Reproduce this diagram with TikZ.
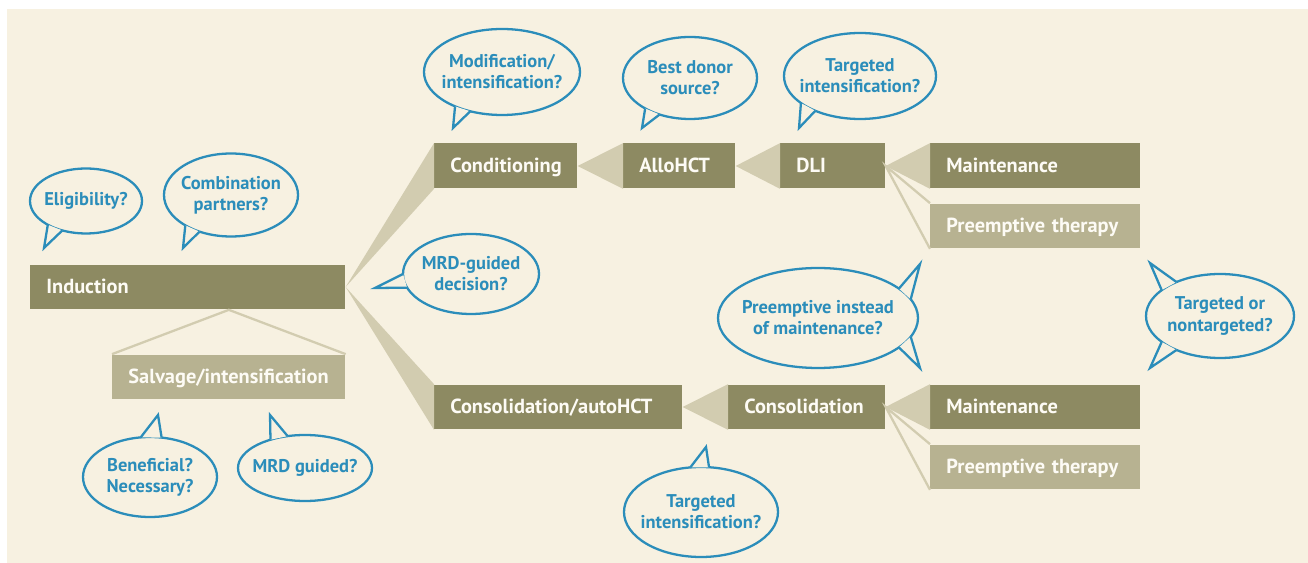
\documentclass[tikz,border=0pt]{standalone}
\usepackage{fontspec}
\setmainfont{PT Sans}
\usetikzlibrary{calc}
\definecolor{cream}{HTML}{F7F1E1}
\definecolor{olivedark}{HTML}{8D8A62}
\definecolor{olivelight}{HTML}{B7B291}
\definecolor{wedgetan}{HTML}{D2CCB0}
\definecolor{qblue}{HTML}{2B8DBA}
\definecolor{boxtext}{HTML}{FDFBF5}
\hyphenpenalty=10000

\begin{document}
\begin{tikzpicture}[x=0.02cm, y=-0.02cm,
    stage/.style={fill=olivedark, text=boxtext, font=\bfseries\fontsize{11.6}{13}\selectfont,
        anchor=west, minimum height=0.9cm, inner xsep=0.32cm, inner ysep=0pt,
        text height=0.72em, text depth=0pt, align=left, text width=#1},
    stagelight/.style={stage=#1, fill=olivelight},
    wedge/.style={fill=wedgetan},
    branch/.style={draw=wedgetan, line width=1.3pt},
    question/.style={text=qblue, font=\bfseries\fontsize{10.5}{12}\selectfont, align=center},
    bubble/.style={draw=qblue, line width=1.3pt},
    tail/.style={draw=qblue, line width=1.3pt, fill=cream}]
        % Hintergrund
        \fill[white] (0,0) rectangle (1308,563);
        \useasboundingbox (0,0) rectangle (1308,563);
        \fill[cream] (7,9) rectangle (1308,563);

        % Therapiestufen
        \node[stage=5.66cm] (induction) at (30,287) {Induction};
        \node[stagelight=4.02cm] (salvage) at (112,377) {Salvage/intensification};
        \node[stage=2.22cm] (cond) at (434,166) {Conditioning};
        \node[stage=1.6cm] (allo) at (623,166) {AlloHCT};
        \node[stage=1.46cm] (dli) at (780,166) {DLI};
        \node[stage=3.56cm] (maintA) at (930,166) {Maintenance};
        \node[stagelight=3.56cm] (preA) at (930,226) {Preemptive~therapy};
        \node[stage=4.32cm] (consauto) at (434,407) {Consolidation/autoHCT};
        \node[stage=2.5cm] (cons) at (728,407) {Consolidation};
        \node[stage=3.56cm] (maintB) at (930,407) {Maintenance};
        \node[stagelight=3.56cm] (preB) at (930,467) {Preemptive~therapy};

        % Keile zwischen den Stufen
        \fill[wedge] (induction.east) -- (cond.north west) -- (cond.south west) -- cycle;
        \fill[wedge] (induction.east) -- (consauto.north west) -- (consauto.south west) -- cycle;
        \fill[wedge] (cond.east) -- (allo.north west) -- (allo.south west) -- cycle;
        \fill[wedge] (allo.east) -- (dli.north west) -- (dli.south west) -- cycle;
        \fill[wedge] (dli.east) -- (maintA.north west) -- (maintA.south west) -- cycle;
        \fill[wedge] (consauto.east) -- (cons.north west) -- (cons.south west) -- cycle;
        \fill[wedge] (cons.east) -- (maintB.north west) -- (maintB.south west) -- cycle;

        % duenne Aeste
        \coordinate (indfoot) at (salvage.north |- induction.south);
        \draw[branch] (salvage.north west) -- (indfoot) -- (salvage.north east);
        \draw[branch] (preA.north west) -- (dli.east) -- (preA.south west);
        \draw[branch] (preB.north west) -- (cons.east) -- (preB.south west);

        % Fragen: Eligibility
        \node[question] (elig) at (86,201) {Eligibility?};
        \draw[bubble] (elig.center) ellipse [x radius=56, y radius=32.5];
        \coordinate (eligtip) at (44,248);
        \draw[tail] ($(elig.center)+(133:56 and 32.5)$) -- (eligtip) -- ($(elig.center)+(115:56 and 32.5)$);

        % Combination partners
        \node[question] (combo) at (231,195) {Combination\\partners?};
        \draw[bubble] (combo.center) ellipse [x radius=67, y radius=41.5];
        \coordinate (combotip) at (183,248);
        \draw[tail] ($(combo.center)+(133:67 and 41.5)$) -- (combotip) -- ($(combo.center)+(118:67 and 41.5)$);

        % Modification
        \node[question] (modif) at (502,72) {Modification/\\intensification?};
        \draw[bubble] (modif.center) ellipse [x radius=78, y radius=43];
        \coordinate (modiftip) at (453,128);
        \draw[tail] ($(modif.center)+(127:78 and 43)$) -- (modiftip) -- ($(modif.center)+(114:78 and 43)$);

        % Best donor
        \node[question] (donor) at (690,78) {Best donor\\source?};
        \draw[bubble] (donor.center) ellipse [x radius=67, y radius=41];
        \coordinate (donortip) at (642,128);
        \draw[tail] ($(donor.center)+(132:67 and 41)$) -- (donortip) -- ($(donor.center)+(117:67 and 41)$);

        % Targeted intensification (DLI)
        \node[question] (targA) at (860,76) {Targeted\\intensification?};
        \draw[bubble] (targA.center) ellipse [x radius=76, y radius=43];
        \coordinate (targAtip) at (799,128);
        \draw[tail] ($(targA.center)+(141:76 and 43)$) -- (targAtip) -- ($(targA.center)+(126:76 and 43)$);

        % MRD-guided decision
        \node[question] (mrd) at (471,274) {MRD-guided\\decision?};
        \draw[bubble] (mrd.center) ellipse [x radius=68, y radius=40];
        \coordinate (mrdtip) at (375,288);
        \draw[tail] ($(mrd.center)+(180:68 and 40)$) -- (mrdtip) -- ($(mrd.center)+(160:68 and 40)$);

        % Preemptive instead of maintenance
        \node[question] (preinst) at (818,318) {Preemptive instead\\of maintenance?};
        \draw[bubble] (preinst.center) ellipse [x radius=100, y radius=50];
        \coordinate (preinstup) at (920,264);
        \coordinate (preinstdown) at (920,368);
        \draw[tail] ($(preinst.center)+(-36:100 and 50)$) -- (preinstup) -- ($(preinst.center)+(-22:100 and 50)$);
        \draw[tail] ($(preinst.center)+(36:100 and 50)$) -- (preinstdown) -- ($(preinst.center)+(22:100 and 50)$);

        % Targeted or nontargeted
        \node[question] (ornot) at (1220,316) {Targeted or\\nontargeted?};
        \draw[bubble] (ornot.center) ellipse [x radius=74, y radius=42];
        \coordinate (ornotup) at (1150,263);
        \coordinate (ornotdown) at (1150,368);
        \draw[tail] ($(ornot.center)+(-142:74 and 42)$) -- (ornotup) -- ($(ornot.center)+(-126:74 and 42)$);
        \draw[tail] ($(ornot.center)+(142:74 and 42)$) -- (ornotdown) -- ($(ornot.center)+(126:74 and 42)$);

        % Beneficial / Necessary
        \node[question] (benef) at (150,477) {Beneficial?\\Necessary?};
        \draw[bubble] (benef.center) ellipse [x radius=67, y radius=40];
        \coordinate (beneftip) at (158,415);
        \draw[tail] ($(benef.center)+(-98:67 and 40)$) -- (beneftip) -- ($(benef.center)+(-80:67 and 40)$);

        % MRD guided
        \node[question] (mrdg) at (305,468) {MRD guided?};
        \draw[bubble] (mrdg.center) ellipse [x radius=67, y radius=33];
        \coordinate (mrdgtip) at (270,415);
        \draw[tail] ($(mrdg.center)+(-121:67 and 33)$) -- (mrdgtip) -- ($(mrdg.center)+(-105:67 and 33)$);

        % Targeted intensification (Konsolidierung)
        \node[question] (targB) at (701,512) {Targeted\\intensification?};
        \draw[bubble] (targB.center) ellipse [x radius=77, y radius=45];
        \coordinate (targBtip) at (706,447);
        \draw[tail] ($(targB.center)+(-98:77 and 45)$) -- (targBtip) -- ($(targB.center)+(-84:77 and 45)$);
    \end{tikzpicture}
\end{document}
